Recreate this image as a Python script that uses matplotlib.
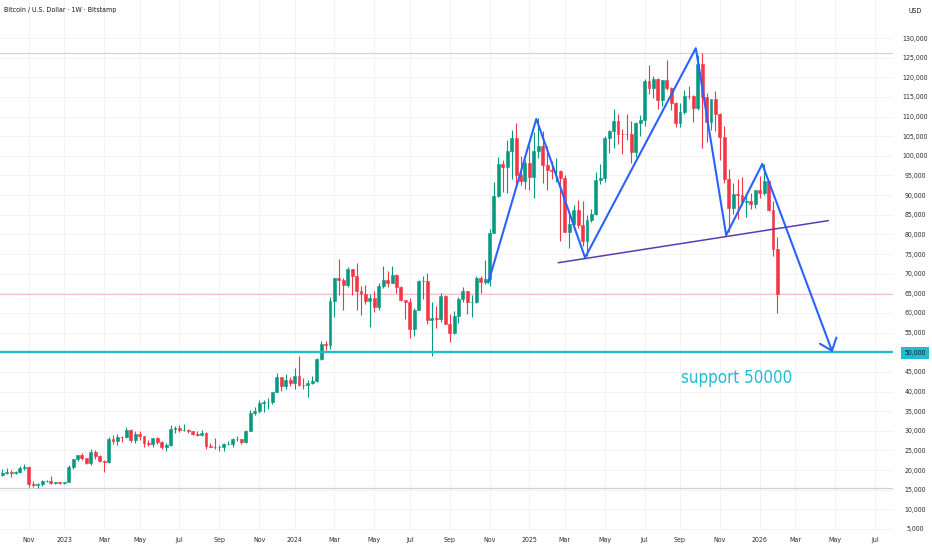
import matplotlib
matplotlib.use('Agg')
import matplotlib.pyplot as plt
import matplotlib.dates as mdates
from matplotlib import font_manager
import pandas as pd

# TradingView text is narrow: take a narrow face if one is installed
installed = {(f.name, f.stretch) for f in font_manager.fontManager.ttflist}
if any(n == 'Liberation Sans Narrow' for n, _ in installed):
    FONT = dict(family=['Liberation Sans Narrow', 'DejaVu Sans'])
elif ('DejaVu Sans', 'condensed') in installed or ('DejaVu Sans', 'semi-condensed') in installed:
    FONT = dict(family=['DejaVu Sans'], stretch='condensed')
else:
    FONT = dict(family=['Roboto', 'DejaVu Sans'])
plt.rcParams['font.family'] = FONT['family']
if 'stretch' in FONT:
    plt.rcParams['font.stretch'] = FONT['stretch']

# BTC/USD weekly bars (Bitstamp), first bar opens Monday 2022-09-19
first_week = '2022-09-19'
opens = [
    19420, 18800, 19310, 19420, 19200, 19570, 20620, 20900, 16330, 16280, 16450, 17100, 17100, 16780, 16840,
    # 2023
    16610, 16950, 20880, 22700, 23750, 22950, 21800, 24600, 23550, 22350, 22150, 28000, 27500, 28450, 28330,
    30300, 27600, 29250, 28700, 26900, 26750, 28080, 27100, 25850, 26350, 30480, 30600, 30170, 30300, 29900,
    29300, 29050, 29400, 26100, 26000, 25850, 25850, 26550, 26550, 27950, 27950, 27150, 29950, 34500, 35050,
    37050, 37380, 37450, 39950, 43800, 41350, 43000,
    # 2024
    42250, 43950, 41750, 41550, 42050, 42600, 48300, 52150, 51750, 63100, 68950, 68400, 67200, 71300, 69350,
    65700, 64950, 63100, 63900, 61500, 66950, 68500, 67750, 69650, 66650, 63200, 62700, 55850, 60800, 68150,
    68250, 58150, 58700, 58450, 64200, 57300, 54850, 59150, 63600, 65650, 62850, 62900, 69000, 67950, 68750,
    80350, 89850, 97900, 97250, 101150, 104450, 95200, 93700,
    # 2025
    98300, 94550, 101300, 102600, 97700, 96450, 96150, 96250, 94250, 80700, 82600, 86100, 82400, 78300, 83750,
    85150, 93750, 94300, 104650, 106450, 109000, 105650, 105600, 105500, 100950, 108350, 109200, 119100, 117300,
    119450, 114200, 119300, 117400, 113500, 108250, 111150, 115250, 115200, 112200, 123500, 115100, 108650,
    114550, 110550, 104700, 94200, 86800, 90400, 90100, 88200, 88500, 87800,
    # 2026
    91300, 90600, 93500, 86200, 76400,
]
highs = [
    19950, 20380, 20480, 19950, 19700, 21000, 21480, 21000, 17200, 16750, 17400, 17430, 18400, 17050, 16950,
    17050, 21250, 22750, 23800, 24250, 23150, 25250, 25100, 23900, 22600, 28400, 28900, 29200, 28800, 31000,
    30400, 30000, 29850, 28800, 27650, 27450, 28450, 27350, 26800, 31400, 31300, 31500, 31800, 30400, 29950,
    29900, 30250, 29600, 26800, 28150, 26400, 27000, 27500, 28050, 28600, 28000, 30300, 35200, 35950, 37950,
    37950, 38400, 40000, 44700, 43800, 44400, 43800,
    45900, 49000, 43550, 42850, 43900, 48550, 52800, 52950, 64000, 69000, 73800, 68950, 71750, 71300, 72800,
    66850, 67200, 64750, 65500, 67700, 71950, 70600, 71950, 70000, 66950, 63350, 63800, 61300, 68400, 69400,
    70050, 62750, 61800, 65000, 64500, 59800, 60600, 64100, 66500, 65650, 64450, 69400, 69500, 73600, 81500,
    93450, 99650, 98900, 104000, 106500, 108350, 99950, 99000,
    102700, 106000, 109600, 106450, 102500, 98800, 99500, 96500, 95000, 85300, 87450, 88750, 88500, 85000,
    86450, 95800, 97900, 105000, 106650, 111900, 110700, 106800, 110600, 108950, 108500, 110500, 119500, 123200,
    120250, 119750, 119400, 124450, 117600, 113600, 113400, 116800, 117900, 115500, 125600, 126200, 116000,
    114000, 116400, 110800, 107500, 96600, 93100, 94100, 94600, 90400, 90600, 91100,
    94800, 97900, 93600, 88500, 79300,
]
lows = [
    18130, 18480, 19020, 18150, 18900, 19250, 20050, 15700, 15800, 15480, 16000, 16870, 16550, 16550, 16330,
    16580, 16900, 20400, 22300, 22550, 21450, 21400, 22800, 21950, 19550, 21900, 26600, 26500, 27200, 28200,
    27100, 26950, 27700, 25800, 26250, 25900, 26600, 25350, 24800, 26250, 29550, 29750, 29950, 29500, 28900,
    28600, 28750, 25400, 25800, 25350, 24900, 24900, 26350, 26000, 27300, 26550, 26950, 29900, 33950, 34550,
    34800, 35650, 36700, 39950, 40200, 40550, 41500,
    40750, 41500, 40600, 38500, 41900, 42300, 48150, 50550, 50900, 59000, 64550, 60800, 66500, 64500, 60650,
    59600, 62400, 56500, 60150, 60650, 66300, 66650, 67600, 65100, 63000, 58400, 53500, 54250, 60650, 63500,
    57200, 49050, 56150, 57800, 57200, 52550, 54600, 57500, 62700, 59850, 58900, 62450, 65100, 67450, 66850,
    80300, 89400, 90800, 90500, 94200, 92200, 92500, 91500,
    91200, 89250, 99500, 93100, 91200, 94100, 93350, 78200, 81500, 76600, 81150, 81600, 77150, 74400, 83150,
    85000, 92800, 93400, 100700, 102000, 103050, 100400, 104150, 98200, 99600, 105150, 107500, 115800, 114700,
    112000, 112650, 116800, 111700, 107300, 107300, 110600, 114400, 108700, 111600, 102000, 103500, 106700,
    106300, 98900, 93000, 80600, 85300, 83800, 87500, 84400, 86500, 86700,
    89300, 90000, 86000, 74600, 59900,
]
closes = [
    18800, 19310, 19420, 19200, 19570, 20620, 20900, 16330, 16280, 16450, 17100, 17100, 16780, 16840, 16610,
    16950, 20880, 22700, 23750, 22950, 21800, 24600, 23550, 22350, 22150, 28000, 27500, 28450, 28330, 30300,
    27600, 29250, 28700, 26900, 26750, 28080, 27100, 25850, 26350, 30480, 30600, 30170, 30300, 29900, 29300,
    29050, 29400, 26100, 26000, 25850, 25850, 26550, 26550, 27950, 27950, 27150, 29950, 34500, 35050, 37050,
    37450, 37450, 39950, 43800, 41350, 43000, 42250,
    43950, 41750, 41550, 42050, 42600, 48300, 52150, 51750, 63100, 68950, 68400, 67200, 71300, 69350, 65700,
    64950, 63100, 63900, 61500, 66950, 68500, 67750, 69650, 66650, 63200, 62700, 55850, 60800, 68150, 68250,
    58150, 58700, 58450, 64200, 57300, 54850, 59150, 63600, 65650, 62850, 62900, 69000, 67950, 68750, 80350,
    89850, 97900, 97250, 101150, 104450, 95200, 93700, 98300,
    94550, 101300, 102600, 97700, 96450, 96150, 96250, 94250, 80700, 82600, 86100, 82400, 78300, 83750, 85150,
    93750, 94300, 104650, 106450, 109000, 105650, 105600, 105500, 100950, 108350, 109200, 119100, 117300, 119450,
    114200, 119300, 117400, 113500, 108250, 111150, 115250, 115200, 112200, 123500, 115100, 108650, 114550,
    110550, 104700, 94200, 86800, 90400, 90100, 88200, 88500, 87800, 91300,
    90600, 93500, 86200, 76400, 64800,
]

price_ticks = list(range(5000, 130001, 5000))
month_starts = ['2022-11', '2023-01', '2023-03', '2023-05', '2023-07', '2023-09', '2023-11',
                '2024-01', '2024-03', '2024-05', '2024-07', '2024-09', '2024-11',
                '2025-01', '2025-03', '2025-05', '2025-07', '2025-09', '2025-11',
                '2026-01', '2026-03', '2026-05', '2026-07']
month_labels = ['Nov', '2023', 'Mar', 'May', 'Jul', 'Sep', 'Nov',
                '2024', 'Mar', 'May', 'Jul', 'Sep', 'Nov',
                '2025', 'Mar', 'May', 'Jul', 'Sep', 'Nov',
                '2026', 'Mar', 'May', 'Jul']

# hand drawn pattern (blue zigzag ending in an arrow, purple neckline)
zigzag_dates = ['2024-11-02', '2025-01-17', '2025-04-04', '2025-09-26', '2025-11-13', '2026-01-09']
zigzag_prices = [67700, 109400, 74100, 127400, 79800, 97900]
arrow_end_date = '2026-04-30'
arrow_end_price = 50000
neck_dates = ['2025-02-21', '2026-04-23']
neck_prices = [72800, 83500]

support_level = 50000
ath_level = 126200
cycle_low_level = 15450
last_price = 64800
support_text = 'support 50000'
support_text_date = '2025-09-03'
support_text_price = 42200

UP = '#089981'
DOWN = '#f23645'
BLUE = '#2962ff'
CYAN = '#1fbcd2'
TXT = '#131722'

# sizes tuned for the condensed face, slightly smaller for a regular one
narrow = FONT['family'][0] != 'Roboto'
support_size = 12.2 if narrow else 11.0
label_size = 5.0 if narrow else 4.6

fig = plt.figure(figsize=(9.32, 5.5), dpi=100)
ax = fig.add_axes([0, 19 / 550, 893 / 932, 531 / 550])

week_dates = pd.date_range(first_week, periods=len(closes), freq='W-MON')
xs = mdates.date2num(week_dates)
colors = [UP if c >= o else DOWN for o, c in zip(opens, closes)]
ax.vlines(xs, lows, highs, colors=colors, linewidth=0.8, zorder=3)
bottoms = [min(o, c) for o, c in zip(opens, closes)]
heights = [abs(c - o) for o, c in zip(opens, closes)]
ax.bar(xs, heights, bottom=bottoms, width=4.6, color=colors, edgecolor=colors,
       linewidth=0.4, zorder=4)

# horizontal levels
ax.axhline(ath_level, color='#cfd2d8', linewidth=0.9, zorder=1)
ax.axhline(cycle_low_level, color='#cfd2d8', linewidth=0.9, zorder=1)
ax.axhline(last_price, color='#f6c3c8', linewidth=0.9, zorder=1)
ax.axhline(support_level, color=CYAN, linewidth=1.7, zorder=5)

# pattern lines
zz = mdates.date2num(pd.to_datetime(zigzag_dates))
ax.plot(zz, zigzag_prices, color=BLUE, linewidth=1.5, zorder=6, solid_capstyle='round')
ax.annotate('', xy=(mdates.date2num(pd.Timestamp(arrow_end_date)), arrow_end_price),
            xytext=(zz[-1], zigzag_prices[-1]),
            arrowprops=dict(arrowstyle='->,head_length=0.55,head_width=0.45', color=BLUE,
                            lw=1.5, shrinkA=0, shrinkB=0, mutation_scale=14), zorder=6)
nk = mdates.date2num(pd.to_datetime(neck_dates))
ax.plot(nk, neck_prices, color='#5b3bb5', linewidth=1.1, zorder=6)

ax.text(mdates.date2num(pd.Timestamp(support_text_date)), support_text_price, support_text,
        color=CYAN, fontsize=support_size, ha='left', va='baseline', zorder=7)

# axes / scales
ax.set_xlim(mdates.date2num(pd.Timestamp('2022-09-22 12:00')),
            mdates.date2num(pd.Timestamp('2026-08-03 14:00')))
ax.set_ylim(4490, 139680)

tick_pos = []
for m in month_starts:
    d = pd.Timestamp(m + '-01')
    tick_pos.append(mdates.date2num(d + pd.Timedelta(days=(7 - d.weekday()) % 7)))
ax.set_xticks(tick_pos)
ax.set_xticklabels(month_labels)
ax.tick_params(axis='x', length=0, pad=4.0, labelsize=label_size, labelcolor='#2a2e39')

ax.yaxis.tick_right()
ax.set_yticks(price_ticks)
ax.set_yticklabels([f'{p:,}' for p in price_ticks])
ax.tick_params(axis='y', length=0, pad=15.8, labelsize=label_size, labelcolor='#2a2e39')
for lab in ax.get_yticklabels():
    lab.set_horizontalalignment('center')
    if lab.get_text() == f'{support_level:,}':
        lab.set_color(TXT)
        lab.set_bbox(dict(boxstyle='square,pad=0.45', fc=CYAN, ec='none'))

ax.grid(True, color='#f2f3f6', linewidth=0.7, zorder=0)
ax.set_axisbelow(True)
for s in ax.spines.values():
    s.set_visible(False)

fig.text(4 / 932, 1 - 10 / 550, 'Bitcoin / U.S. Dollar · 1W · Bitstamp', fontsize=label_size,
         color=TXT, ha='left', va='center')
fig.text(915 / 932, 1 - 11 / 550, 'USD', fontsize=label_size, color=TXT, ha='center', va='center')

fig.savefig('out.png', dpi=100, facecolor='white')
